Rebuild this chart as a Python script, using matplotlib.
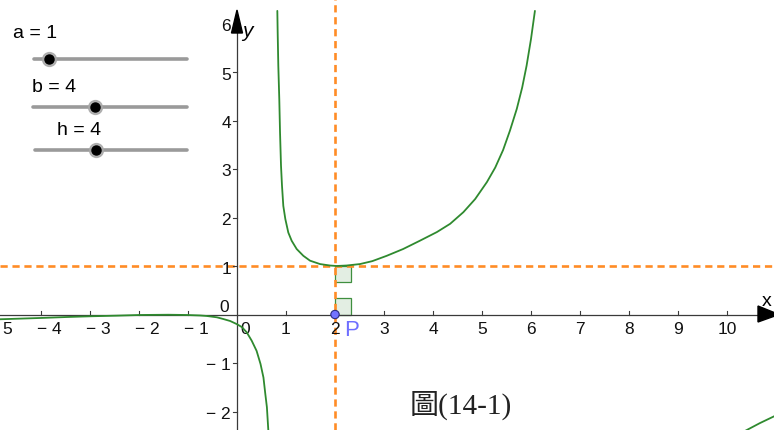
import numpy as np
import matplotlib
matplotlib.use("Agg")
import matplotlib.pyplot as plt
from matplotlib.patches import Polygon, Rectangle, Circle

# --------------------------------------------------------------------------
# DATA
# --------------------------------------------------------------------------

# branch right of the asymptote near x = 0.8 (min at (2, 1))
right_x = [0.823, 0.830, 0.843, 0.863, 0.878, 0.898, 0.918, 0.945, 0.986, 1.047,
           1.116, 1.218, 1.354, 1.490, 1.694, 1.898, 2.034, 2.238, 2.510, 2.760,
           3.055, 3.390, 3.730, 4.080, 4.350, 4.620, 4.860, 5.100, 5.270, 5.430,
           5.570, 5.710, 5.820, 5.910, 6.000, 6.080]
right_y = [6.26, 5.82, 5.13, 4.44, 3.76, 3.07, 2.66, 2.24, 1.97, 1.69,
           1.52, 1.35, 1.21, 1.11, 1.04, 1.01, 1.00, 1.01, 1.04, 1.10,
           1.21, 1.35, 1.52, 1.70, 1.87, 2.11, 2.38, 2.73, 3.03, 3.39,
           3.79, 4.24, 4.68, 5.13, 5.68, 6.26]

# branch left of the asymptote near x = 0.6
left_x = [-4.90, -4.67, -4.02, -3.48, -3.00, -2.46, -1.98, -1.40, -1.03, -0.755,
          -0.62, -0.41, -0.28, -0.14, 0.00, 0.10, 0.20, 0.30, 0.40, 0.48,
          0.54, 0.578, 0.61, 0.64]
left_y = [-0.100, -0.093, -0.072, -0.052, -0.037, -0.024, -0.010, -0.005, -0.010, -0.020,
          -0.030, -0.058, -0.093, -0.134, -0.20, -0.26, -0.37, -0.54, -0.75, -1.02,
          -1.30, -1.64, -1.91, -2.40]

# piece coming in at the bottom right corner
tail_x = [10.37, 10.67, 10.98]
tail_y = [-2.40, -2.24, -2.09]

x_ticks = [-5, -4, -3, -2, -1, 1, 2, 3, 4, 5, 6, 7, 8, 9, 10]
y_ticks = [-2, -1, 1, 2, 3, 4, 5, 6]

P = (2, 0)
guide_x = 2       # vertical dashed line
guide_y = 1       # horizontal dashed line
mark_size = 0.33  # right-angle marks

sliders = [("a = 1", 1), ("b = 4", 4), ("h = 4", 4)]
slider_min, slider_max = 0, 10

caption = "圖(14-1)"

# --------------------------------------------------------------------------
# LAYOUT (pixel geometry of the GeoGebra view)
# --------------------------------------------------------------------------
W, H = 774, 431
X0, Y0 = 237.0, 315.5      # pixel position of the origin
SX, SY = 49.0, 48.5        # pixels per unit


def fx(px):
    return (px - X0) / SX


def fy(py):
    return (Y0 - py) / SY


plt.rcParams['font.family'] = ['Liberation Sans', 'DejaVu Sans']

fig = plt.figure(figsize=(W / 100, H / 100), dpi=100)
ax = fig.add_axes([0, 0, 1, 1])
ax.set_xlim(fx(0), fx(W))
ax.set_ylim(fy(H), fy(0))
ax.axis('off')

axis_col = '#3a3a3a'
green = '#2f8a2f'
orange = '#ff8c26'
tick_fs = 12.5

# axes with arrows
ax.plot([fx(0), fx(759)], [0, 0], color=axis_col, lw=0.9, zorder=3)
ax.plot([0, 0], [fy(H), fy(33)], color=axis_col, lw=0.9, zorder=3)
ax.add_patch(Polygon([(fx(779), 0), (fx(758), fy(307)), (fx(758), fy(323))],
                     closed=True, color='black', zorder=4, clip_on=False))
ax.add_patch(Polygon([(0, fy(11)), (fx(231.5), fy(34)), (fx(242.5), fy(34))],
                     closed=True, color='black', zorder=4))
ax.text(fx(767), fy(302), "x", fontsize=14, ha='center', va='center', zorder=5)
ax.text(fx(247), fy(31), "y", fontsize=15, ha='center', va='center',
        style='italic', zorder=5)

# tick marks and labels
for t in x_ticks:
    ax.plot([t, t], [0, fy(Y0 - 4)], color=axis_col, lw=0.8, zorder=3)
    if t < 0:
        ax.text(t + fx(X0 - 4), fy(330), "\u2212 %d" % (-t), fontsize=tick_fs,
                ha='left', va='center', color='#111111')
    else:
        ax.text(t, fy(330), "%d" % t, fontsize=tick_fs, ha='center', va='center',
                color='#111111')
for t in y_ticks:
    ax.plot([fx(X0 - 4), 0], [t, t], color=axis_col, lw=0.8, zorder=3)
    lab = "%d" % t if t > 0 else "\u2212 %d" % (-t)
    ax.text(fx(231), t + fy(Y0 + 2), lab, fontsize=tick_fs, ha='right', va='center',
            color='#111111')
ax.text(fx(245.5), fy(330), "0", fontsize=tick_fs, ha='center', va='center', color='#111111')
ax.text(fx(224), fy(307), "0", fontsize=tick_fs, ha='center', va='center', color='#111111')

# dashed guide lines
lw_d = 1.9
ax.axvline(guide_x, color=orange, lw=lw_d, dashes=(5.2 / lw_d, 3.4 / lw_d), zorder=2)
ax.axhline(guide_y, color=orange, lw=lw_d, dashes=(5.2 / lw_d, 3.4 / lw_d), zorder=2)

# right-angle marks
for yb in (0, guide_y - mark_size):
    ax.add_patch(Rectangle((guide_x, yb), mark_size, mark_size, facecolor='#e3eee3',
                           edgecolor='#3f8f3f', lw=0.9, zorder=1))

# curve
for xs, ys in ((right_x, right_y), (left_x, left_y), (tail_x, tail_y)):
    ax.plot(xs, ys, color=green, lw=1.3, zorder=3, solid_capstyle='round',
            solid_joinstyle='round')

# point P
ax.add_patch(Circle(P, 4.2 / SX, facecolor='#7373ff', edgecolor='#2b2b80', lw=0.8, zorder=6))
ax.text(fx(352), fy(330), "P", fontsize=16, color='#6f6fff', ha='center', va='center', zorder=6)

# sliders (drawn in pixel space)
slider_rows = [(33, 60, 13, 34), (87, 108, 32, 33), (130, 151, 57, 35)]
for (label, val), (ty, ly, tx, lx0) in zip(sliders, slider_rows):
    lx1 = 187
    ax.text(fx(tx), fy(ty), label, fontsize=14, ha='left', va='center', color='black')
    ax.plot([fx(lx0), fx(lx1)], [fy(ly), fy(ly)], color='#9a9a9a', lw=2.6,
            solid_capstyle='round', zorder=3)
    kx = lx0 + (lx1 - lx0) * (val - slider_min) / (slider_max - slider_min)
    ax.plot(fx(kx), fy(ly), 'o', ms=10, color='#a8a8a8', alpha=0.85, zorder=4)
    ax.plot(fx(kx), fy(ly), 'o', ms=6.5, color='black', zorder=5)

ax.text(fx(410), fy(405), caption, fontsize=21, ha='left', va='center',
        family=['Liberation Serif', 'Noto Sans CJK TC'], color='#222222')

fig.savefig("out.png", dpi=100)
